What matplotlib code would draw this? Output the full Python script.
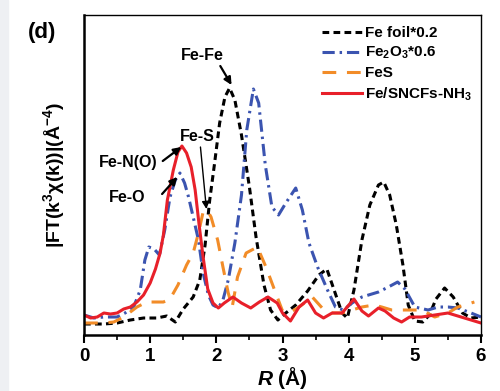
import matplotlib
matplotlib.use('Agg')
import matplotlib.pyplot as plt
from matplotlib.patches import Rectangle

plt.rcParams['font.family'] = ['Liberation Sans', 'DejaVu Sans']
plt.rcParams['font.weight'] = 'bold'
plt.rcParams['mathtext.fontset'] = 'custom'
plt.rcParams['mathtext.rm'] = 'Liberation Sans:bold'
plt.rcParams['mathtext.it'] = 'Liberation Sans:italic:bold'
plt.rcParams['mathtext.bf'] = 'Liberation Sans:bold'
plt.rcParams['mathtext.default'] = 'rm'

# FT magnitudes (arbitrary units)
foil_r = [0.0, 0.3, 0.5, 0.7, 0.9, 1.1, 1.25, 1.38, 1.5, 1.65, 1.75, 1.83, 1.9, 1.97,
          2.05, 2.13, 2.2, 2.28, 2.38, 2.5, 2.6, 2.72, 2.82, 2.93, 3.05, 3.2, 3.38,
          3.55, 3.67, 3.78, 3.9, 3.98, 4.08, 4.2, 4.32, 4.45, 4.53, 4.62, 4.72, 4.82,
          4.9, 5.0, 5.12, 5.22, 5.32, 5.45, 5.58, 5.72, 5.85, 6.0]
foil_ft = [11, 11, 12, 15, 17, 17, 19, 13, 26, 38, 55, 90, 135, 170,
           212, 238, 247, 235, 200, 148, 98, 50, 25, 15, 22, 30, 44,
           60, 66, 45, 22, 17, 45, 95, 130, 150, 153, 140, 110, 70,
           30, 14, 13, 20, 36, 47, 38, 22, 17, 18]

fe2o3_r = [0.0, 0.15, 0.3, 0.5, 0.62, 0.75, 0.85, 0.92, 0.98, 1.06, 1.14, 1.22, 1.3,
           1.38, 1.45, 1.52, 1.58, 1.65, 1.73, 1.8, 1.88, 1.95, 2.03, 2.1, 2.18, 2.28,
           2.38, 2.46, 2.56, 2.64, 2.74, 2.84, 2.94, 3.05, 3.2, 3.3, 3.4, 3.53, 3.68,
           3.8, 3.92, 4.05, 4.2, 4.45, 4.6, 4.74, 4.85, 5.0, 5.2, 5.35, 5.5, 5.65, 5.85,
           6.0]
fe2o3_ft = [20, 17, 18, 18, 22, 28, 45, 75, 88, 86, 80, 105, 138,
            155, 162, 152, 138, 118, 95, 62, 40, 30, 27, 35, 55, 92,
            140, 205, 246, 232, 170, 128, 120, 132, 147, 125, 92, 68, 45,
            28, 25, 32, 38, 43, 48, 53, 46, 28, 25, 28, 28, 27, 22,
            18]

fes_r = [0.0, 0.3, 0.45, 0.6, 0.8, 0.95, 1.05, 1.2, 1.3, 1.42, 1.55, 1.65, 1.73, 1.8,
         1.86, 1.92, 2.02, 2.1, 2.18, 2.24, 2.32, 2.45, 2.62, 2.75, 2.88, 3.0, 3.1,
         3.25, 3.45, 3.6, 3.75, 3.9, 4.05, 4.2, 4.38, 4.5, 4.65, 4.85, 5.1, 5.3, 5.5,
         5.65, 5.9]
fes_ft = [12, 12, 13, 18, 28, 33, 33, 33, 36, 50, 70, 82, 102, 123,
          125, 118, 95, 68, 42, 28, 58, 82, 88, 68, 45, 24, 22,
          28, 38, 27, 22, 22, 25, 28, 30, 28, 25, 25, 25, 18, 22,
          28, 33]

sncf_r = [0.0, 0.1, 0.2, 0.3, 0.4, 0.5, 0.6, 0.7, 0.8, 0.9, 1.0, 1.08, 1.15, 1.2, 1.26,
          1.35, 1.42, 1.48, 1.55, 1.62, 1.68, 1.74, 1.8, 1.87, 1.95, 2.03, 2.12, 2.25,
          2.38, 2.52, 2.65, 2.78, 2.92, 3.0, 3.12, 3.25, 3.38, 3.5, 3.62, 3.75, 3.9,
          4.08, 4.2, 4.3, 4.45, 4.55, 4.68, 4.8, 4.92, 5.1, 5.3, 5.5, 5.7, 5.85, 6.0]
sncf_ft = [20, 17, 18, 22, 21, 22, 26, 28, 33, 40, 52, 66, 82, 100, 135,
           165, 183, 189, 182, 168, 145, 110, 78, 46, 32, 27, 32, 38,
           32, 27, 33, 38, 32, 22, 14, 28, 35, 22, 17, 22, 22,
           36, 24, 19, 27, 24, 17, 13, 18, 18, 20, 22, 18, 15, 12]

labels = ['Fe foil*0.2', 'Fe$_2$O$_3$*0.6', 'FeS', 'Fe/SNCFs-NH$_3$']

fig = plt.figure(figsize=(5, 3.91), dpi=100)
fig.patches.append(Rectangle((0, 0), 0.016, 1, transform=fig.transFigure,
                             color='#eef0f3', zorder=-1))
ax = fig.add_axes([0.168, 0.1432, 0.794, 0.8184])

ax.plot(foil_r, foil_ft, color='black', lw=2.2, dashes=(2.2, 1.4), label=labels[0])
ax.plot(fe2o3_r, fe2o3_ft, color='#3b54b0', lw=2.2, dashes=(4, 1.6, 0.8, 1.6), label=labels[1])
ax.plot(fes_r, fes_ft, color='#f28c28', lw=2.2, dashes=(4.5, 3.5), label=labels[2])
ax.plot(sncf_r, sncf_ft, color='#e8202a', lw=2.2, label=labels[3])

ax.set_xlim(0, 6)
ax.set_ylim(0, 320)
ax.set_yticks([])
ax.set_xticks(range(7))
ax.set_xticks([0.5, 1.5, 2.5, 3.5, 4.5, 5.5], minor=True)
ax.tick_params(axis='x', which='major', direction='out', length=6, width=1.5,
               labelsize=13.5, pad=3)
ax.tick_params(axis='x', which='minor', direction='out', length=3.5, width=1.2)
for lab in ax.get_xticklabels():
    lab.set_fontweight('bold')
ax.spines['left'].set_linewidth(1.8)
ax.spines['bottom'].set_linewidth(1.8)
ax.spines['top'].set_linewidth(1.0)
ax.spines['right'].set_linewidth(1.0)

ax.set_xlabel('$\\mathit{R}$ (Å)', fontsize=15, fontweight='bold', labelpad=0)
ax.set_ylabel('|FT(k$^3$χ(k))|(Å$^{-4}$)', fontsize=14, fontweight='bold', labelpad=12)

# peak labels and their arrows
tkw = dict(fontsize=11.5, fontweight='bold', ha='center', va='center')
ax.text(1.79, 280, 'Fe-Fe', **tkw)
ax.text(1.71, 199, 'Fe-S', **tkw)
ax.text(0.67, 173, 'Fe-N(O)', **tkw)
ax.text(0.65, 138, 'Fe-O', **tkw)

arrow = dict(arrowstyle='-|>', color='black', lw=1.6, mutation_scale=11,
             shrinkA=0, shrinkB=0)
ax.annotate('', xy=(2.23, 250), xytext=(2.06, 269), arrowprops=arrow)
ax.annotate('', xy=(1.47, 188), xytext=(1.19, 174), arrowprops=arrow)
ax.annotate('', xy=(1.41, 158), xytext=(1.18, 141), arrowprops=arrow)
ax.annotate('', xy=(1.85, 126), xytext=(1.76, 188),
            arrowprops=dict(arrow, lw=1.0))

fig.text(0.084, 0.918, '(d)', fontsize=16, fontweight='bold', ha='center', va='center')

leg = ax.legend(loc='upper right', bbox_to_anchor=(0.978, 0.966), frameon=False,
                fontsize=11, handlelength=2.6, handletextpad=0.25, labelspacing=0.33,
                borderaxespad=0, borderpad=0)
for t in leg.get_texts():
    t.set_fontweight('bold')

fig.savefig('out.png', dpi=100)
